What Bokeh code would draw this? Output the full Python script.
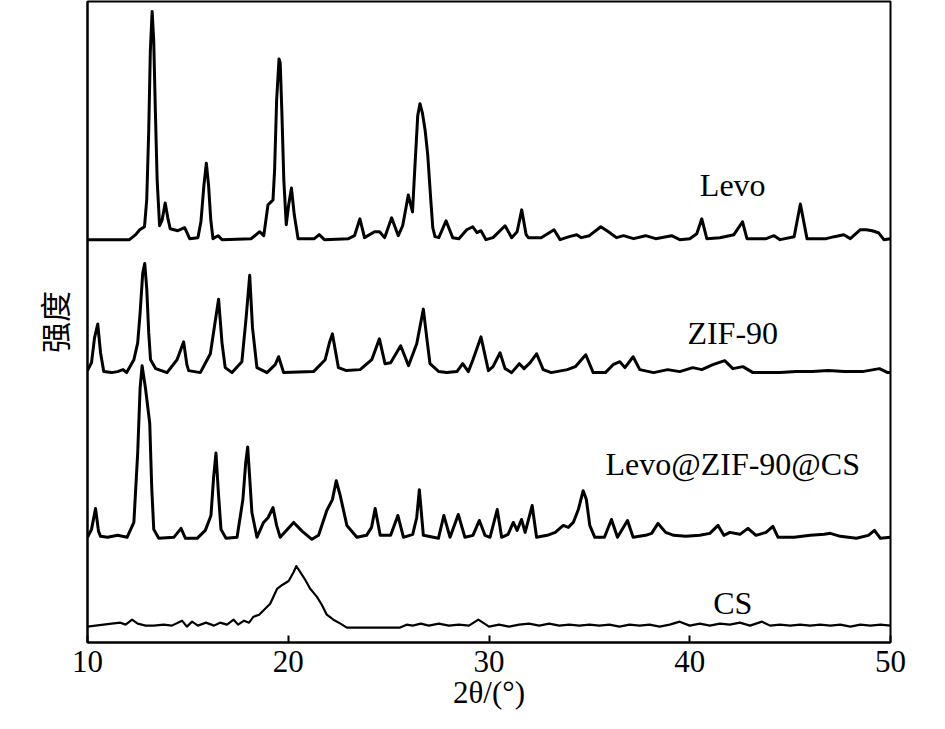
from bokeh.plotting import figure
from bokeh.models import FixedTicker, Label
from bokeh.embed import file_html
from bokeh.resources import INLINE

# ---- data (2θ in degrees, intensity in a.u. above each trace's own baseline) ----
levo_x = [10.0, 12.09, 12.4, 12.6, 12.84, 12.95, 13.05, 13.13, 13.22, 13.3, 13.38, 13.47, 13.59, 13.72, 13.87,
          14.0, 14.12, 14.5, 14.84, 15.09, 15.5, 15.65, 15.8, 15.92, 16.03, 16.14, 16.25, 16.5, 16.7, 18.16,
          18.58, 18.78, 18.99, 19.24, 19.32, 19.42, 19.54, 19.6, 19.68, 19.78, 19.9, 20.02, 20.16, 20.3, 20.49,
          21.3, 21.54, 21.8, 23.0, 23.3, 23.57, 23.8, 24.3, 24.55, 24.8, 25.15, 25.48, 25.7, 25.98, 26.19,
          26.3, 26.45, 26.56, 26.68, 26.82, 26.95, 27.1, 27.2, 27.31, 27.5, 27.86, 28.19, 28.5, 28.89, 29.19,
          29.4, 29.6, 29.85, 30.2, 30.8, 31.13, 31.4, 31.63, 31.85, 31.96, 32.6, 33.24, 33.54, 34.0, 34.37,
          34.6, 35.0, 35.57, 35.95, 36.35, 36.7, 37.2, 37.8, 38.3, 39.1, 39.5, 40.0, 40.35, 40.6, 40.85,
          41.5, 42.2, 42.63, 42.85, 43.8, 44.2, 44.5, 45.2, 45.51, 45.84, 46.8, 47.2, 47.67, 48.0, 48.5,
          48.8, 49.09, 49.4, 49.67, 50.0]
levo_y = [0, 0, 5, 10, 13, 40, 110, 190, 230, 200, 130, 60, 14, 20, 37,
          22, 11, 9, 12, 1, 2, 18, 55, 77, 55, 20, 1, 4, 0, 1,
          8, 4, 35, 40, 70, 140, 182, 178, 130, 60, 15, 35, 52, 25, 1,
          1, 5, 0, 1, 4, 21, 2, 8, 8, 2, 22, 4, 14, 45, 28,
          70, 125, 137, 128, 110, 85, 40, 12, 3, 2, 19, 2, 1, 10, 13,
          7, 9, 0, 2, 14, 2, 8, 30, 5, 2, 2, 10, 0, 3, 5,
          2, 4, 13, 8, 2, 4, 1, 4, 1, 4, 0, 1, 6, 21, 1,
          2, 5, 18, 1, 1, 4, 0, 3, 36, 1, 1, 3, 5, 1, 10,
          10, 9, 7, 0, 1]

zif_x = [10.0, 10.2, 10.35, 10.51, 10.65, 10.81, 11.2, 11.5, 11.77, 11.95, 12.31, 12.5, 12.62, 12.75, 12.85,
         12.95, 13.05, 13.14, 13.4, 13.96, 14.46, 14.79, 14.95, 15.04, 15.62, 16.12, 16.35, 16.53, 16.7, 16.86,
         17.2, 17.69, 17.9, 18.08, 18.22, 18.44, 18.94, 19.35, 19.52, 19.77, 21.26, 21.84, 22.05, 22.2, 22.5,
         22.9, 23.58, 24.16, 24.54, 24.82, 25.1, 25.6, 25.99, 26.4, 26.73, 26.9, 27.06, 27.5, 27.89, 28.4,
         28.69, 28.97, 29.2, 29.6, 29.97, 30.2, 30.55, 30.8, 31.13, 31.51, 31.75, 32.05, 32.37, 32.7, 33.1,
         33.9, 34.3, 34.82, 35.19, 35.8, 36.18, 36.52, 36.77, 37.18, 37.51, 38.2, 38.9, 39.5, 40.15, 40.6,
         41.15, 41.74, 42.15, 42.65, 43.15, 44.5, 45.3, 46.1, 46.9, 47.7, 48.6, 49.45, 49.86, 50.0]
zif_y = [2, 10, 35, 49, 20, 1, 0, 1, 3, 0, 13, 30, 60, 100, 110,
         85, 40, 13, 4, 0, 13, 31, 8, 2, 0, 19, 50, 74, 30, 5,
         0, 11, 55, 98, 45, 5, 0, 8, 16, 0, 1, 13, 30, 39, 5,
         2, 3, 13, 34, 9, 10, 27, 7, 29, 64, 35, 9, 1, 0, 1,
         9, 1, 13, 36, 2, 6, 20, 4, 0, 9, 4, 10, 19, 3, 0,
         3, 6, 18, 0, 0, 8, 11, 5, 16, 3, 0, 3, 1, 5, 3,
         8, 12, 4, 6, 0, 0, 1, 1, 2, 1, 1, 4, 0, 0]

comp_x = [10.0, 10.2, 10.4, 10.55, 10.65, 11.0, 11.5, 11.97, 12.31, 12.5, 12.62, 12.72, 12.89, 13.1, 13.2,
          13.3, 13.55, 14.3, 14.66, 14.88, 15.46, 15.87, 16.15, 16.28, 16.4, 16.52, 16.65, 16.9, 17.45, 17.74,
          17.88, 17.98, 18.08, 18.19, 18.44, 18.77, 19.0, 19.24, 19.42, 19.6, 19.95, 20.27, 20.7, 21.18, 21.51,
          21.92, 22.2, 22.39, 22.59, 22.92, 23.42, 23.9, 24.15, 24.33, 24.58, 25.1, 25.46, 25.74, 26.2, 26.4,
          26.53, 26.73, 27.48, 27.75, 28.06, 28.47, 28.8, 29.2, 29.52, 29.8, 30.05, 30.41, 30.63, 30.95, 31.21,
          31.4, 31.62, 31.8, 32.15, 32.37, 32.9, 33.3, 33.7, 33.95, 34.2, 34.45, 34.69, 34.85, 35.02, 35.27,
          35.75, 36.1, 36.4, 36.9, 37.18, 37.8, 38.1, 38.42, 38.8, 39.2, 39.8, 40.5, 41.0, 41.41, 41.7,
          42.0, 42.5, 42.9, 43.3, 43.8, 44.14, 44.4, 45.2, 46.0, 46.7, 47.0, 47.5, 48.3, 48.9, 49.2,
          49.5, 50.0]
comp_y = [0, 8, 29, 6, 1, 0, 2, 0, 15, 85, 150, 173, 150, 115, 50,
          8, -1, 0, 9, -1, -1, 7, 22, 60, 85, 45, 8, -1, 0, 38,
          75, 91, 60, 25, 0, 15, 20, 30, 12, 0, 8, 15, 6, -2, 2,
          27, 38, 57, 42, 12, 0, 2, 10, 29, 2, 2, 22, 0, 3, 20,
          48, 2, -1, 22, 0, 23, 0, 2, 17, 2, 0, 28, 0, 3, 15,
          7, 18, 5, 32, 0, 2, 5, 12, 10, 15, 28, 47, 38, 12, 0,
          0, 18, 0, 17, 0, 2, 4, 14, 5, 2, 1, 2, 4, 12, 2,
          5, 3, 9, 2, 5, 11, 0, 0, 2, 3, 4, 1, -1, 2, 7,
          -1, 0]

cs_x = [10.0, 10.4, 10.8, 11.2, 11.64, 11.9, 12.22, 12.5, 12.9, 13.3, 13.8, 14.2, 14.71, 14.95, 15.21,
        15.5, 15.9, 16.3, 16.6, 16.95, 17.28, 17.5, 17.8, 18.05, 18.27, 18.55, 18.85, 19.1, 19.44, 19.7,
        20.02, 20.27, 20.4, 20.6, 20.85, 21.1, 21.43, 21.67, 21.92, 22.25, 22.6, 22.92, 25.57, 25.9, 26.2,
        26.6, 27.0, 27.5, 28.0, 28.5, 29.0, 29.47, 29.7, 30.0, 30.5, 31.0, 31.5, 32.0, 32.5, 33.0,
        33.5, 34.0, 34.5, 35.0, 35.5, 36.0, 36.5, 37.0, 37.5, 38.0, 38.5, 39.0, 39.5, 40.0, 40.5,
        41.0, 41.5, 42.0, 42.5, 43.0, 43.6, 44.0, 44.5, 45.0, 45.5, 46.0, 46.5, 47.0, 47.5, 48.0,
        48.5, 49.0, 49.5, 50.0]
cs_y = [0, 1, 2, 3, 4, 2, 7, 3, 1, 1, 2, 1, 6, 0, 5,
        1, 4, 1, 4, 2, 7, 2, 6, 4, 10, 12, 18, 23, 38, 42,
        46, 55, 61, 55, 47, 38, 30, 22, 12, 7, 3, -1, -1, 2, 1,
        3, 1, 3, 1, 2, 1, 7, 4, 0, 2, 0, 2, 3, 1, 3,
        1, 2, 1, 2, 1, 2, 0, 2, 1, 2, 0, 2, 5, 1, 3,
        1, 3, 2, 4, 1, 5, 1, 2, 1, 2, 1, 2, 1, 2, 0,
        2, 1, 2, 1]

series_names = ["Levo", "ZIF-90", "Levo@ZIF-90@CS", "CS"]
x_ticks = [10, 20, 30, 40, 50]

# ---- layout / style ----
offsets = [406, 272, 106, 16]          # vertical stacking of the traces
label_pos = [(42.14, 461), (42.14, 312), (42.14, 180), (42.14, 40)]
line_widths = [3.0, 3.0, 3.0, 2.2]
serif = "Liberation Serif"

p = figure(width=929, height=712, x_range=(10, 50), y_range=(0, 646),
           output_backend="svg", toolbar_location=None,
           min_border_left=87, min_border_right=39, min_border_top=1, min_border_bottom=70)

series = [(levo_x, levo_y), (zif_x, zif_y), (comp_x, comp_y), (cs_x, cs_y)]
for (xs, ys), off, lw in zip(series, offsets, line_widths):
    p.line(xs, [v + off for v in ys], line_color="black", line_width=lw, line_join="round")

for name, (lx, ly) in zip(series_names, label_pos):
    p.add_layout(Label(x=lx, y=ly, text=name, text_align="center", text_baseline="middle",
                       text_font=serif, text_font_size="32px", text_color="black"))

p.xgrid.visible = False
p.ygrid.visible = False
p.outline_line_color = "black"
p.outline_line_width = 2
p.outline_line_alpha = 1
p.background_fill_color = "white"
p.border_fill_color = "white"

xa = p.xaxis[0]
xa.ticker = FixedTicker(ticks=x_ticks)
xa.minor_tick_line_color = None
xa.major_tick_in = 7
xa.major_tick_out = 0
xa.major_tick_line_width = 2
xa.major_tick_line_color = "black"
xa.axis_line_width = 2
xa.axis_line_color = "black"
xa.major_label_standoff = 8
xa.major_label_text_font = serif
xa.major_label_text_font_size = "31px"
xa.major_label_text_color = "black"
xa.axis_label = "2θ/(°)"
xa.axis_label_standoff = 0
xa.axis_label_text_font = serif
xa.axis_label_text_font_size = "31px"
xa.axis_label_text_font_style = "normal"
xa.axis_label_text_color = "black"

ya = p.yaxis[0]
ya.ticker = FixedTicker(ticks=[])
ya.minor_tick_line_color = None
ya.major_tick_line_color = None
ya.major_label_text_font_size = "0px"
ya.axis_line_width = 2
ya.axis_line_color = "black"
ya.axis_label = "强度"
ya.axis_label_standoff = 12
ya.axis_label_text_font = "Noto Sans CJK SC"
ya.axis_label_text_font_size = "31px"
ya.axis_label_text_font_style = "normal"
ya.axis_label_text_color = "black"

open("out.html", "w").write(file_html(p, INLINE))
